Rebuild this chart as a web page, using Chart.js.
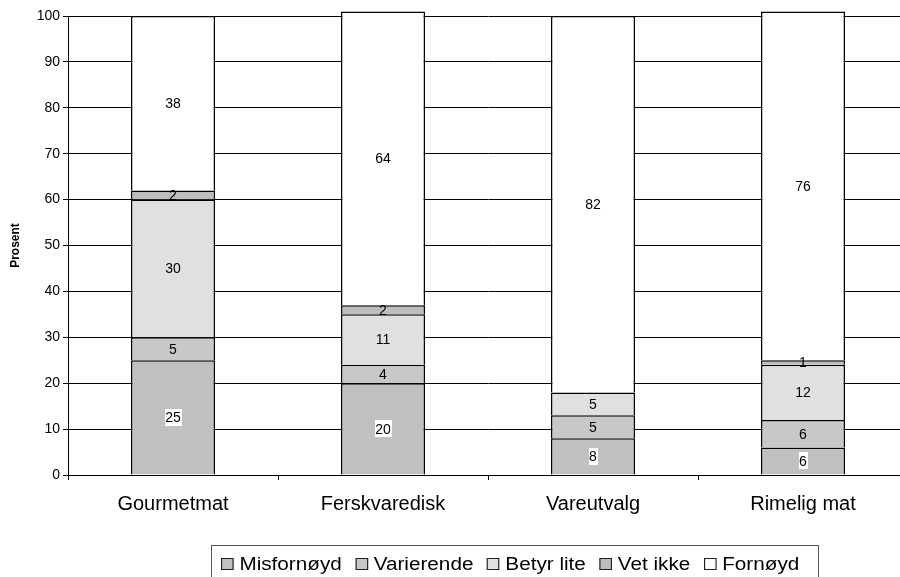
<!DOCTYPE html>
<html lang="no">
<head>
<meta charset="utf-8">
<title>Tilfredshet med butikkens tilbud</title>
<script src="https://cdn.jsdelivr.net/npm/chart.js@4/dist/chart.umd.min.js"></script>
<style>
  html, body { margin: 0; padding: 0; background: #fff; overflow: hidden; width: 900px; height: 577px; }
  #wrap { position: relative; width: 900px; height: 577px; overflow: hidden; }
  #chart { position: absolute; left: 0; top: 0; }
  #legend {
    position: absolute; left: 211px; top: 545px; width: 608px; height: 40px;
    box-sizing: border-box; border: 1px solid #555; border-bottom: none;
  }
  #legend .row {
    position: absolute; left: 9px; top: 8px; height: 20px;
    display: flex; align-items: center; gap: 11.75px;
    transform: scaleX(1.15); transform-origin: 0 50%;
    font-family: "Liberation Sans", Arial, sans-serif; font-size: 18px; line-height: 20px;
    color: #000; white-space: nowrap;
  }
  #legend .item { display: flex; align-items: center; }
  #legend .box { width: 9px; height: 10px; border: 1px solid #222; margin-right: 5px; flex: none; }
</style>
</head>
<body>
<div id="wrap">
  <canvas id="chart" width="908" height="577"></canvas>
  <div id="legend"><div class="row"></div></div>
</div>
<script>
// Kategorier og svarfordeling (prosent)
const categories = ['Gourmetmat', 'Ferskvaredisk', 'Vareutvalg', 'Rimelig mat'];
const seriesNames = ['Misfornøyd', 'Varierende', 'Betyr lite', 'Vet ikke', 'Fornøyd'];
const misfornoyd = [25, 20, 8, 6];
const varierende = [5, 4, 5, 6];
const betyrLite  = [30, 11, 5, 12];
const vetIkke    = [2, 2, 0, 1];
const fornoyd    = [38, 64, 82, 76];
const yTicks = [0, 10, 20, 30, 40, 50, 60, 70, 80, 90, 100];

const seriesColors = ['#c0c0c0', '#c8c8c8', '#e0e0e0', '#bdbdbd', '#ffffff'];
const seriesValues = [misfornoyd, varierende, betyrLite, vetIkke, fornoyd];

const FONT = '"Liberation Sans", Arial, sans-serif';

// Hvert segment tegner topp og sider; bunnen dekkes av segmentet under
const datasets = seriesValues.map((vals, i) => ({
  label: seriesNames[i],
  data: vals,
  backgroundColor: seriesColors[i],
  borderColor: '#000',
  borderWidth: 1.5,
  borderSkipped: 'start',
  clip: false,
  labelBackground: i === 0
}));

// Verdietiketter midt i hvert segment
const valueLabels = {
  id: 'valueLabels',
  afterDatasetsDraw(chart) {
    const ctx = chart.ctx;
    ctx.save();
    ctx.font = '14px ' + FONT;
    ctx.textAlign = 'center';
    ctx.textBaseline = 'middle';
    chart.data.datasets.forEach((ds, i) => {
      const meta = chart.getDatasetMeta(i);
      meta.data.forEach((bar, j) => {
        const v = ds.data[j];
        if (!v) return;
        const y = (bar.y + bar.base) / 2;
        const txt = String(v);
        if (ds.labelBackground) {
          const w = ctx.measureText(txt).width;
          ctx.fillStyle = '#fff';
          ctx.fillRect(Math.round(bar.x - w / 2 - 0.5), Math.round(y - 8.5), Math.round(w + 1), 17);
        }
        ctx.fillStyle = '#000';
        ctx.fillText(txt, bar.x, y + 1);
      });
    });
    ctx.restore();
  }
};

new Chart(document.getElementById('chart'), {
  type: 'bar',
  data: { labels: categories, datasets },
  options: {
    responsive: false,
    animation: false,
    devicePixelRatio: 1,
    layout: { padding: { top: 16, right: 0, bottom: 0, left: 0 } },
    plugins: { legend: { display: false }, tooltip: { enabled: false } },
    datasets: { bar: { categoryPercentage: 1, barPercentage: 0.4 } },
    scales: {
      x: {
        stacked: true,
        offset: true,
        grid: { display: true, drawOnChartArea: false, offset: true, tickLength: 5, color: '#000' },
        border: { color: '#000', width: 1 },
        ticks: { color: '#000', font: { family: FONT, size: 20 }, padding: 12, maxRotation: 0 },
        afterFit(scale) { scale.height = 102; }
      },
      y: {
        stacked: true,
        min: 0,
        max: 100,
        afterBuildTicks(scale) { scale.ticks = yTicks.map(v => ({ value: v })); },
        grid: { color: '#000', tickLength: 5 },
        border: { color: '#000', width: 1 },
        ticks: { color: '#000', font: { family: FONT, size: 14 }, padding: 3 },
        title: { display: true, text: 'Prosent', color: '#000', font: { family: FONT, size: 12, weight: 'bold' }, padding: { top: 8, bottom: 0 } },
        afterFit(scale) { scale.width = 68; }
      }
    }
  },
  plugins: [valueLabels]
});

// Tegnforklaring med ramme
const legendRow = document.querySelector('#legend .row');
seriesNames.forEach((name, i) => {
  const item = document.createElement('span');
  item.className = 'item';
  const box = document.createElement('span');
  box.className = 'box';
  box.style.background = seriesColors[i];
  const text = document.createElement('span');
  text.textContent = name;
  item.appendChild(box);
  item.appendChild(text);
  legendRow.appendChild(item);
});
</script>
</body>
</html>
